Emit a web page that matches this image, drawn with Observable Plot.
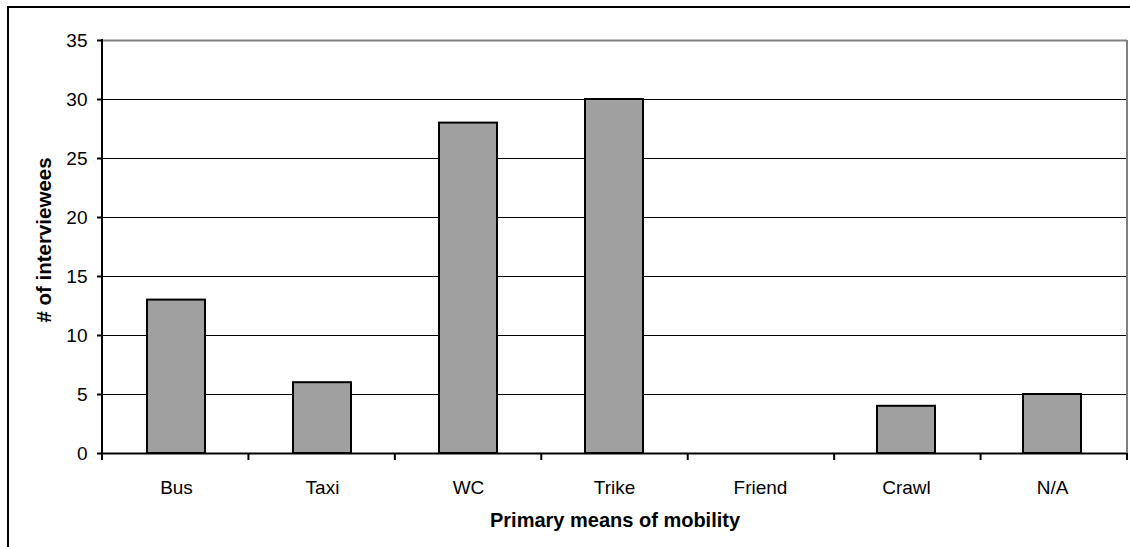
<!DOCTYPE html>
<html>
<head>
<meta charset="utf-8">
<script src="https://cdn.jsdelivr.net/npm/d3@7"></script>
<script src="https://cdn.jsdelivr.net/npm/@observablehq/plot@0.6"></script>
<style>
  html, body { margin: 0; padding: 0; background: #fff; }
  #wrap { position: relative; width: 1130px; height: 547px; overflow: hidden; }
  #outer { position: absolute; left: 7px; top: 6px; width: 1200px; height: 600px;
           border-left: 2px solid #000; border-top: 2px solid #000; pointer-events: none; }
  svg { display: block; }
</style>
</head>
<body>
<div id="wrap"><div id="outer"></div></div>
<script>
const categories = ["Bus", "Taxi", "WC", "Trike", "Friend", "Crawl", "N/A"];
const counts = [13, 6, 28, 30, 0, 4, 5];
const yTicks = [0, 5, 10, 15, 20, 25, 30, 35];
const gridValues = [5, 10, 15, 20, 25, 30];
const xTitle = "Primary means of mobility";
const yTitle = "# of interviewees";

const data = categories.map((c, i) => ({category: c, value: counts[i]}));
const font = "'Liberation Sans', Arial, Helvetica, sans-serif";

const plot = Plot.plot({
  width: 1130,
  height: 547,
  marginLeft: 102,
  marginRight: 3,
  marginTop: 40,
  marginBottom: 94,
  style: {fontFamily: font, fontSize: "19px", color: "#000", background: "transparent"},
  x: {domain: categories, padding: 0.6, paddingOuter: 0.3, label: null},
  y: {domain: [0, 35], label: null},
  marks: [
    Plot.ruleY(gridValues, {stroke: "#000", strokeWidth: 1.2}),
    Plot.ruleY([35], {stroke: "#808080", strokeWidth: 2}),
    Plot.barY(data, {x: "category", y: "value", fill: "#a0a0a0", stroke: "#000", strokeWidth: 2}),
    Plot.ruleY([0], {stroke: "#000", strokeWidth: 2}),
    Plot.axisY({ticks: yTicks, tickSize: 5, tickPadding: 10, tickFormat: d => String(d), fontSize: 19, label: null, strokeWidth: 2}),
    Plot.axisX({tickSize: 0, tickPadding: 27, fontSize: 19, label: null}),
    Plot.text([xTitle], {frameAnchor: "bottom", textAnchor: "middle", dy: 73, fontWeight: "bold", fontSize: 20}),
    Plot.text([yTitle], {frameAnchor: "left", textAnchor: "middle", dx: -58, dy: -7, rotate: -90, fontWeight: "bold", fontSize: 20.5})
  ]
});

// Decorations derived from the library's scales: left axis line, category boundary ticks, right border
const xs = plot.scale("x");
const ys = plot.scale("y");
const svg = d3.select(plot);
const [x0, x1] = xs.range;
const yb = ys.apply(0), yt = ys.apply(35);
const step = (x1 - x0) / categories.length;
const g = svg.append("g");
g.append("line").attr("x1", x1).attr("x2", x1).attr("y1", yt).attr("y2", yb)
  .attr("stroke", "#808080").attr("stroke-width", 2);
g.append("line").attr("x1", x0).attr("x2", x0).attr("y1", yt - 1).attr("y2", yb + 1)
  .attr("stroke", "#000").attr("stroke-width", 2);
for (let i = 0; i <= categories.length; i++) {
  const x = x0 + i * step;
  g.append("line").attr("x1", x).attr("x2", x).attr("y1", yb).attr("y2", yb + 7)
    .attr("stroke", "#000").attr("stroke-width", 2);
}
document.getElementById("wrap").insertBefore(plot, document.getElementById("outer"));
</script>
</body>
</html>
